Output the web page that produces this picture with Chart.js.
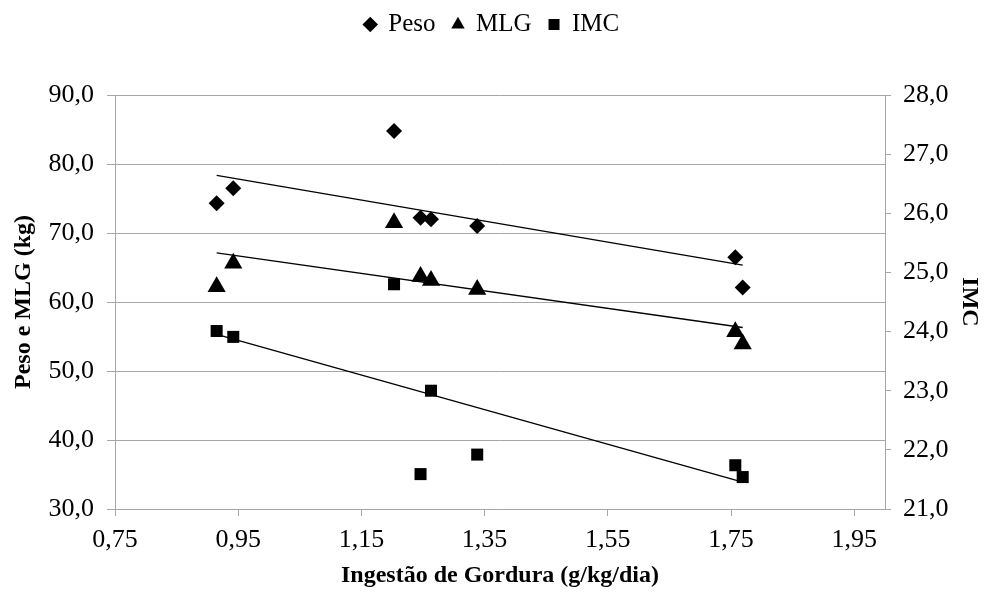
<!DOCTYPE html>
<html>
<head>
<meta charset="utf-8">
<script src="https://cdn.jsdelivr.net/npm/chart.js@4/dist/chart.umd.min.js"></script>
<style>
  html, body { margin: 0; padding: 0; background: #fff; }
  #wrap { width: 984px; height: 594px; }
</style>
</head>
<body>
<div id="wrap"><canvas id="scatterChart"></canvas></div>
<script>
// fat intake (g/kg/day) per subject
const gordura = [0.915, 0.942, 1.203, 1.246, 1.263, 1.338, 1.757, 1.769];
const peso = [74.3, 76.5, 84.8, 72.2, 72.0, 71.0, 66.5, 62.1];
const mlg = [62.2, 65.6, 71.5, 63.7, 63.1, 61.8, 55.7, 53.9];
const imc = [24.01, 23.91, 24.80, 21.59, 23.00, 21.92, 21.74, 21.54];

const xTicks = [0.75, 0.95, 1.15, 1.35, 1.55, 1.75, 1.95];

const FONT = 'Liberation Serif, Times New Roman, serif';
const GRID = '#a6a6a6';

const comma = (v, d) => Number(v).toFixed(d).replace('.', ',');

// linear trendline between min and max x
const trend = (xs, ys) => {
    const n = xs.length;
    const mx = xs.reduce((a, b) => a + b, 0) / n;
    const my = ys.reduce((a, b) => a + b, 0) / n;
    let sxy = 0, sxx = 0;
    xs.forEach((x, i) => {
        sxy += (x - mx) * (ys[i] - my);
        sxx += (x - mx) * (x - mx);
    });
    const b = sxy / sxx;
    const x0 = Math.min(...xs), x1 = Math.max(...xs);
    return [{ x: x0, y: my + b * (x0 - mx) }, { x: x1, y: my + b * (x1 - mx) }];
};

const pts = (ys) => gordura.map((x, i) => ({ x: x, y: ys[i] }));

const markerDs = (label, ys, style, radius, axis) => ({
    label: label,
    data: pts(ys),
    pointStyle: style,
    pointRadius: radius,
    pointHoverRadius: radius,
    backgroundColor: '#000',
    borderColor: '#000',
    borderWidth: 0,
    showLine: false,
    yAxisID: axis,
});

const lineDs = (ys, axis) => ({
    label: '',
    data: trend(gordura, ys),
    showLine: true,
    pointRadius: 0,
    borderColor: '#000',
    borderWidth: 1.3,
    yAxisID: axis,
});

// push the plot area down below the legend
const legendGap = {
    id: 'legendGap',
    beforeLayout(chart) {
        const legend = chart.legend;
        if (!legend || legend._gapPatched) return;
        const fit = legend.fit;
        legend.fit = function () {
            fit.call(this);
            this.height = 100;
        };
        legend._gapPatched = true;
    },
};

const ctx = document.getElementById('scatterChart').getContext('2d');

new Chart(ctx, {
    type: 'scatter',
    data: {
        datasets: [
            markerDs('Peso', peso, 'rectRot', 8, 'y'),
            markerDs('MLG', mlg, 'triangle', 10.5, 'y'),
            markerDs('IMC', imc, 'rect', 8.5, 'y2'),
            lineDs(peso, 'y'),
            lineDs(mlg, 'y'),
            lineDs(imc, 'y2'),
        ],
    },
    plugins: [legendGap],
    options: {
        responsive: true,
        maintainAspectRatio: false,
        animation: false,
        layout: { padding: { top: -5, left: 0, right: 0, bottom: 0 } },
        plugins: {
            tooltip: { enabled: false },
            legend: {
                position: 'top',
                labels: {
                    usePointStyle: true,
                    boxWidth: 11,
                    boxHeight: 11,
                    padding: 17,
                    color: '#000',
                    font: { family: FONT, size: 25 },
                    filter: (item) => item.text !== '',
                },
            },
        },
        scales: {
            x: {
                type: 'linear',
                min: 0.75,
                max: 2.0,
                afterBuildTicks: (axis) => {
                    axis.ticks = xTicks.map((v) => ({ value: v }));
                },
                afterFit: (axis) => { axis.height = 85; },
                grid: { drawOnChartArea: false, drawTicks: true, tickLength: 7, color: GRID },
                border: { color: GRID, width: 1 },
                ticks: {
                    color: '#000',
                    font: { family: FONT, size: 26 },
                    padding: 9,
                    maxRotation: 0,
                    callback: (v) => comma(v, 2),
                },
                title: {
                    display: true,
                    text: 'Ingestão de Gordura (g/kg/dia)',
                    color: '#000',
                    font: { family: FONT, size: 24, weight: 'bold' },
                    padding: { top: 0, bottom: 4 },
                },
            },
            y: {
                position: 'left',
                min: 30,
                max: 90,
                afterFit: (axis) => { axis.width = 115; },
                grid: { color: GRID, tickLength: 8, drawTicks: true },
                border: { color: GRID, width: 1 },
                ticks: {
                    stepSize: 10,
                    color: '#000',
                    font: { family: FONT, size: 26 },
                    padding: 13,
                    callback: (v) => comma(v, 1),
                },
                title: {
                    display: true,
                    text: 'Peso e MLG (kg)',
                    color: '#000',
                    font: { family: FONT, size: 24, weight: 'bold' },
                    padding: { top: 9, bottom: 0 },
                },
            },
            y2: {
                position: 'right',
                min: 21,
                max: 28,
                afterFit: (axis) => { axis.width = 99; },
                grid: { drawOnChartArea: false, color: GRID, tickLength: 6, drawTicks: true },
                border: { color: GRID, width: 1 },
                ticks: {
                    stepSize: 1,
                    color: '#000',
                    font: { family: FONT, size: 26 },
                    padding: 12,
                    callback: (v) => comma(v, 1),
                },
                title: {
                    display: true,
                    text: 'IMC',
                    color: '#000',
                    font: { family: FONT, size: 24, weight: 'bold' },
                    padding: { top: 0, bottom: 0 },
                },
            },
        },
    },
});
</script>
</body>
</html>
